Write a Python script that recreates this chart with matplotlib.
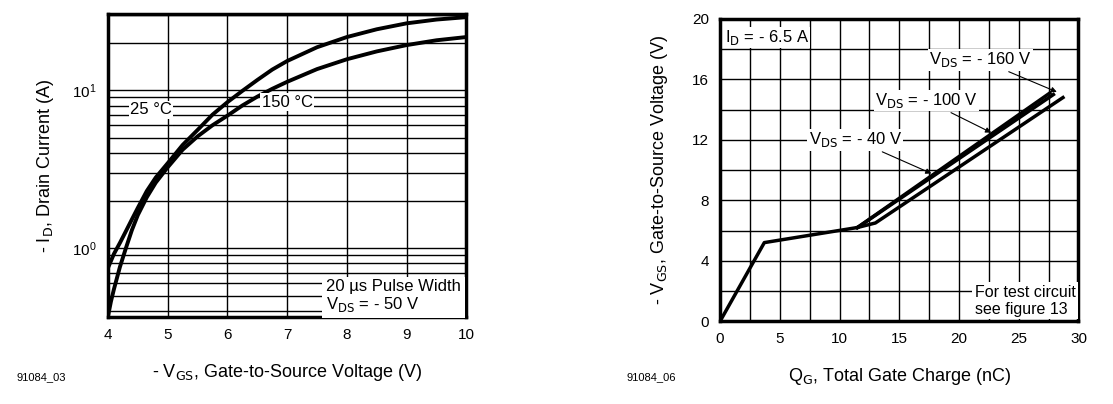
import matplotlib
matplotlib.use("Agg")
import matplotlib.pyplot as plt
import numpy as np

plt.rcParams['font.family'] = ['Liberation Sans', 'DejaVu Sans']

vgs = [4.0, 4.05, 4.1, 4.2, 4.3, 4.4, 4.5, 4.65, 4.8, 5.0, 5.25, 5.5, 5.75, 6.0, 6.25, 6.5, 6.75, 7.0, 7.5, 8.0, 8.5, 9.0, 9.5, 10.0]
id_25 = [0.75, 0.83, 0.92, 1.08, 1.28, 1.52, 1.80, 2.3, 2.8, 3.45, 4.5, 5.6, 7.0, 8.4, 9.9, 11.6, 13.5, 15.3, 18.7, 21.7, 24.3, 26.5, 28.0, 29.0]
id_150 = [0.37, 0.46, 0.55, 0.76, 1.0, 1.3, 1.62, 2.1, 2.6, 3.25, 4.2, 5.1, 6.0, 6.9, 8.0, 9.1, 10.2, 11.3, 13.6, 15.7, 17.6, 19.3, 20.7, 21.7]

qg_common = [0, 3.7, 11.5]
vg_common = [0, 5.2, 6.2]
qg_40 = [11.5, 27.6]
vg_40 = [6.2, 15.1]
qg_100 = [11.5, 27.9]
vg_100 = [6.2, 15.0]
qg_160 = [11.5, 13.0, 28.7]
vg_160 = [6.2, 6.5, 14.8]

fig = plt.figure(figsize=(11.13, 4.04), dpi=100)
ax1 = fig.add_axes([0.097, 0.215, 0.322, 0.75])
ax2 = fig.add_axes([0.647, 0.205, 0.322, 0.748])

# Left chart
ax1.set_yscale('log')
ax1.set_xlim(4, 10)
ax1.set_ylim(0.366, 30.3)
ax1.set_xticks([4, 5, 6, 7, 8, 9, 10])
ax1.set_yticks([1, 10])
ax1.set_yticks([v*d for d in (0.1, 1, 10) for v in range(2, 10) if 0.366 <= v*d <= 30.3], minor=True)
ax1.yaxis.set_minor_formatter(matplotlib.ticker.NullFormatter())
ax1.grid(True, which='both', color='black', lw=1.0)
ax1.set_axisbelow(True)
ax1.plot(vgs, id_25, color='black', lw=2.8, solid_joinstyle='round')
ax1.plot(vgs, id_150, color='black', lw=2.8, solid_joinstyle='round')
bb = dict(facecolor='white', edgecolor='none', pad=1)
ax1.text(4.72, 7.5, '25 °C', fontsize=12, ha='center', va='center', bbox=bb)
ax1.text(7.0, 8.4, '150 °C', fontsize=12, ha='center', va='center', bbox=bb)
ax1.text(7.65, 0.385, '20 µs Pulse Width\nV$_{\\rm DS}$ = - 50 V', fontsize=12, ha='left', va='bottom',
         bbox=dict(facecolor='white', edgecolor='none', pad=3), linespacing=1.05)
ax1.set_xlabel('- V$_{\\rm GS}$, Gate-to-Source Voltage (V)', fontsize=13, labelpad=14)
ax1.set_ylabel('- I$_{\\rm D}$, Drain Current (A)', fontsize=13, labelpad=12)
fig.text(0.015, 0.06, '91084_03', fontsize=8)

# Right chart
ax2.set_xlim(0, 30)
ax2.set_ylim(0, 20)
ax2.set_xticks([0, 5, 10, 15, 20, 25, 30])
ax2.set_xticks(np.arange(0, 30.1, 2.5), minor=True)
ax2.set_yticks([0, 4, 8, 12, 16, 20])
ax2.set_yticks(np.arange(0, 20.1, 2), minor=True)
ax2.grid(True, which='both', color='black', lw=1.0)
ax2.set_axisbelow(True)
ax2.plot(qg_common, vg_common, color='black', lw=2.5)
ax2.plot(qg_40, vg_40, color='black', lw=2.5)
ax2.plot(qg_100, vg_100, color='black', lw=2.5)
ax2.plot(qg_160, vg_160, color='black', lw=2.5)
ax2.text(0.4, 19.4, 'I$_{\\rm D}$ = - 6.5 A', fontsize=12, ha='left', va='top', bbox=bb)
ap = dict(arrowstyle='-|>', color='black', lw=0.8, mutation_scale=8)
ax2.annotate('V$_{\\rm DS}$ = - 160 V', xy=(28.4, 15.1), xytext=(17.5, 17.3), fontsize=12,
             va='center', arrowprops=ap, bbox=bb)
ax2.annotate('V$_{\\rm DS}$ = - 100 V', xy=(22.9, 12.4), xytext=(13.0, 14.6), fontsize=12,
             va='center', arrowprops=ap, bbox=bb)
ax2.annotate('V$_{\\rm DS}$ = - 40 V', xy=(17.9, 9.7), xytext=(7.4, 12.0), fontsize=12,
             va='center', arrowprops=ap, bbox=bb)
ax2.text(21.3, 0.3, 'For test circuit\nsee figure 13', fontsize=11.5, ha='left', va='bottom',
         bbox=dict(facecolor='white', edgecolor='none', pad=2), linespacing=1.15)
ax2.set_xlabel('Q$_{\\rm G}$, Total Gate Charge (nC)', fontsize=13, labelpad=14)
ax2.set_ylabel('- V$_{\\rm GS}$, Gate-to-Source Voltage (V)', fontsize=13, labelpad=16)
fig.text(0.563, 0.06, '91084_06', fontsize=8)

for ax in (ax1, ax2):
    for s in ax.spines.values():
        s.set_linewidth(2.5)
    ax.tick_params(which='both', length=0, labelsize=11, pad=8)

fig.savefig('out.png', dpi=100)
